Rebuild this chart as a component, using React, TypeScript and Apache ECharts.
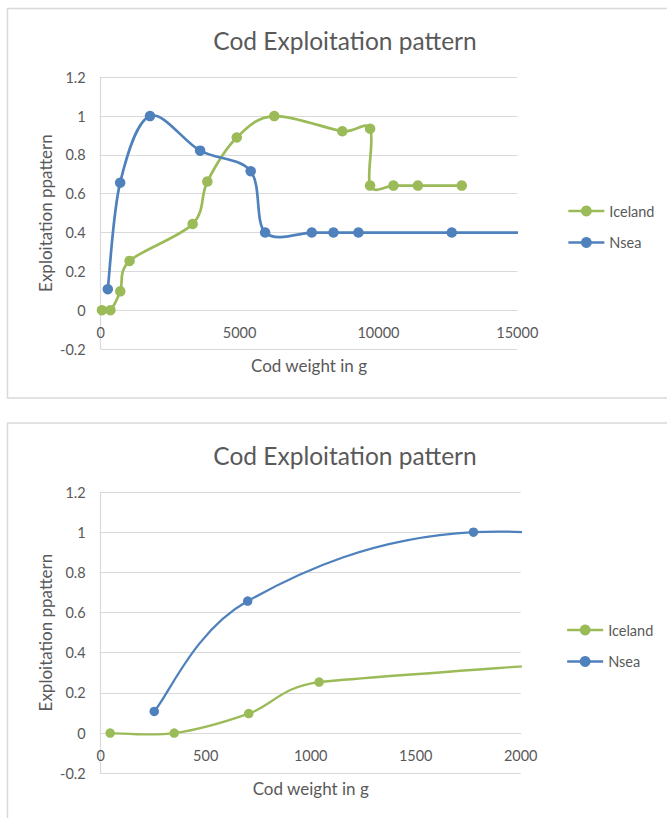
import React, { useEffect, useRef } from "react";
import * as echarts from "echarts";

// Exploitation pattern by cod weight (g)
const icelandWeight = [45, 350, 705, 1040, 3310, 3840, 4900, 6250, 8700, 9700, 9700, 10540, 11420, 13000];
const icelandPattern = [0, 0, 0.097, 0.254, 0.444, 0.663, 0.89, 1.0, 0.922, 0.935, 0.642, 0.642, 0.642, 0.642];
const nseaWeight = [255, 700, 1775, 3580, 5400, 5920, 7600, 8380, 9280, 12640, 18000];
const nseaPattern = [0.108, 0.657, 1.0, 0.822, 0.716, 0.4, 0.4, 0.4, 0.4, 0.4, 0.4];

const seriesNames = ["Iceland", "Nsea"];
const titleText = "Cod Exploitation pattern";
const xAxisName = "Cod weight in g";
const yAxisName = "Exploitation ppattern";

// x-axis ranges of the full view and the zoomed view
const fullRange = { min: 0, max: 15000, interval: 5000 };
const zoomRange = { min: 0, max: 2000, interval: 500 };
const yRange = { min: -0.2, max: 1.2, interval: 0.2 };

const GREEN = "#9BBB59";
const BLUE = "#4F81BD";
const TEXT = "#595959";
const GRID = "#D9D9D9";
const FONT = "Lato";

const pairs = (xs: number[], ys: number[]) => xs.map((x, i) => [x, ys[i]]);

// Cubic Bezier spline through pixel points: tangent arms of 1/6 of the
// neighbour chord, limited to half of the adjacent segments.
function splinePath(pts: number[][]): string {
  const n = pts.length;
  const dist = (a: number[], b: number[]) => Math.hypot(b[0] - a[0], b[1] - a[1]);
  const arms = pts.map((p, i) => {
    const prev = pts[Math.max(i - 1, 0)];
    const next = pts[Math.min(i + 1, n - 1)];
    const tx = next[0] - prev[0];
    const ty = next[1] - prev[1];
    const d02 = Math.hypot(tx, ty);
    if (d02 === 0) return [0, 0];
    let arm = d02 / 6;
    if (i > 0 && i < n - 1) arm = Math.min(arm, dist(prev, p) / 2, dist(p, next) / 2);
    return [(tx / d02) * arm, (ty / d02) * arm];
  });
  let d = `M${pts[0][0]},${pts[0][1]}`;
  for (let i = 0; i < n - 1; i++) {
    const a = pts[i];
    const b = pts[i + 1];
    const c1 = [a[0] + arms[i][0], a[1] + arms[i][1]];
    const c2 = [b[0] - arms[i + 1][0], b[1] - arms[i + 1][1]];
    d += ` C${c1[0]},${c1[1]} ${c2[0]},${c2[1]} ${b[0]},${b[1]}`;
  }
  return d;
}

function curveSeries(xs: number[], ys: number[], axis: number, color: string, width: number) {
  return {
    type: "custom",
    xAxisIndex: axis,
    yAxisIndex: axis,
    data: pairs(xs, ys),
    clip: true,
    silent: true,
    z: 2,
    renderItem: (params: any, api: any) => {
      if (params.dataIndex !== 0) return null;
      const pts = xs.map((x, i) => api.coord([x, ys[i]]));
      return {
        type: "path",
        shape: { pathData: splinePath(pts) },
        style: { fill: "none", stroke: color, lineWidth: width, lineJoin: "round", lineCap: "round" },
      };
    },
  };
}

function markerSeries(name: string, xs: number[], ys: number[], axis: number, color: string, size: number) {
  return {
    name,
    type: "line",
    xAxisIndex: axis,
    yAxisIndex: axis,
    data: pairs(xs, ys),
    symbol: "circle",
    symbolSize: size,
    clip: true,
    lineStyle: { color, opacity: 0 },
    itemStyle: { color, borderWidth: 0 },
    z: 3,
  };
}

export default function App() {
  const ref = useRef<HTMLDivElement>(null);

  useEffect(() => {
    if (!ref.current) return;
    const chart = echarts.init(ref.current, undefined, { renderer: "svg" });

    const panels = [
      { top: 77.3, height: 271.7, right: 149.7, range: fullRange, titleTop: 23, legendTop: 203.5, legendLeft: 567, lw: 2.7, sym: 10.5 },
      { top: 492, height: 281.3, right: 146.3, range: zoomRange, titleTop: 438, legendTop: 622.5, legendLeft: 566, lw: 2.3, sym: 9.5 },
    ];

    const option: any = {
      animation: false,
      backgroundColor: "#fff",
      textStyle: { fontFamily: FONT, color: TEXT },
      graphic: [
        { type: "rect", shape: { x: 7.5, y: 8.5, width: 665, height: 389.5 }, style: { fill: "none", stroke: GRID, lineWidth: 1.5 }, silent: true },
        { type: "rect", shape: { x: 7.5, y: 423, width: 665, height: 420 }, style: { fill: "none", stroke: GRID, lineWidth: 1.5 }, silent: true },
      ],
      title: panels.map((p) => ({
        text: titleText,
        left: 340,
        top: p.titleTop,
        textAlign: "center",
        textStyle: { fontFamily: FONT, fontSize: 24.5, fontWeight: "normal", color: TEXT },
      })),
      legend: panels.map((p) => ({
        data: seriesNames,
        orient: "vertical",
        left: p.legendLeft,
        top: p.legendTop,
        padding: 0,
        itemWidth: 36,
        itemHeight: 13.5,
        itemGap: 16.5,
        lineStyle: { opacity: 1, width: p.lw },
        textStyle: { fontFamily: FONT, fontSize: 14.5, color: TEXT },
        selectedMode: false,
      })),
      grid: panels.map((p) => ({ left: 100.7, right: p.right, top: p.top, height: p.height })),
      xAxis: panels.map((p, i) => ({
        type: "value",
        gridIndex: i,
        min: p.range.min,
        max: p.range.max,
        interval: p.range.interval,
        // the axis crosses the vertical axis at 0, one step above the bottom
        offset: -p.height / 7,
        name: xAxisName,
        nameLocation: "middle",
        nameGap: 47,
        nameMoveOverlap: false,
        nameTextStyle: { fontFamily: FONT, fontSize: 17, color: TEXT },
        axisLine: { show: true, onZero: false, lineStyle: { color: GRID, width: 1.2 } },
        axisTick: { show: false },
        axisLabel: { margin: 15, fontFamily: FONT, fontSize: 14.5, color: TEXT, formatter: (v: number) => String(v) },
        splitLine: { show: false },
      })),
      yAxis: panels.map((p, i) => ({
        type: "value",
        gridIndex: i,
        min: yRange.min,
        max: yRange.max,
        interval: yRange.interval,
        name: yAxisName,
        nameLocation: "middle",
        nameRotate: 90,
        nameGap: 47,
        nameMoveOverlap: false,
        nameTextStyle: { fontFamily: FONT, fontSize: 17, color: TEXT },
        axisLine: { show: true, onZero: false, lineStyle: { color: GRID, width: 1.2 } },
        axisTick: { show: false },
        axisLabel: { margin: 15, fontFamily: FONT, fontSize: 14.5, color: TEXT },
        splitLine: { show: true, lineStyle: { color: GRID, width: 1.2 } },
      })),
      series: panels.flatMap((p, i) => [
        markerSeries(seriesNames[0], icelandWeight, icelandPattern, i, GREEN, p.sym),
        markerSeries(seriesNames[1], nseaWeight, nseaPattern, i, BLUE, p.sym),
        curveSeries(icelandWeight, icelandPattern, i, GREEN, p.lw),
        curveSeries(nseaWeight, nseaPattern, i, BLUE, p.lw),
      ]),
    };

    chart.setOption(option);
    return () => chart.dispose();
  }, []);

  return (
    <div style={{ position: "fixed", left: 0, top: 0, width: 667, height: 818, overflow: "hidden", background: "#fff" }}>
      <div ref={ref} style={{ width: 667, height: 818 }} />
    </div>
  );
}
